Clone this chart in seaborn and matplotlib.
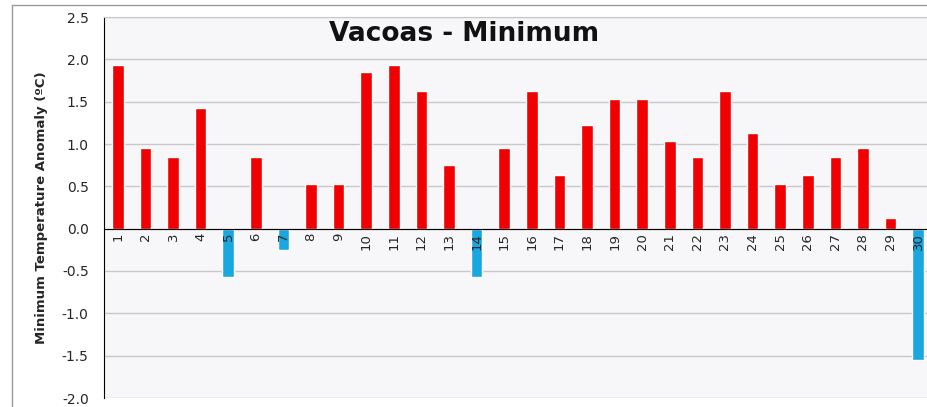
import matplotlib
matplotlib.use("Agg")
import matplotlib.pyplot as plt
import seaborn as sns
import pandas as pd
from matplotlib.ticker import FixedLocator, MultipleLocator

# daily minimum temperature anomaly, Vacoas
days = [str(d) for d in range(1, 31)]
anomaly = [1.93, 0.95, 0.85, 1.43, -0.57, 0.85, -0.25, 0.53, 0.53, 1.85,
           1.93, 1.63, 0.75, -0.57, 0.95, 1.63, 0.63, 1.23, 1.53, 1.53,
           1.03, 0.85, 1.63, 1.13, 0.53, 0.63, 0.85, 0.95, 0.13, -1.55]

df = pd.DataFrame({"day": days, "anomaly": anomaly})
df["sign"] = ["pos" if v >= 0 else "neg" for v in anomaly]

sns.set_style("white")
plt.rcParams["font.family"] = ["DejaVu Sans"]

fig = plt.figure(figsize=(9.28, 4.07), dpi=100)
fig.patch.set_facecolor("white")
ax = fig.add_axes([104 / 928, 9 / 407, 828 / 928, 381 / 407])
ax.set_facecolor("#f7f7f9")

sns.barplot(data=df, x="day", y="anomaly", hue="sign", order=days,
            palette={"pos": "#f00000", "neg": "#1aa7e0"}, width=0.42,
            saturation=1, dodge=False, legend=False, ax=ax, zorder=3)

ax.set_xlim(-0.5, 29.5)
ax.set_ylim(-2.0, 2.5)
ax.yaxis.set_major_locator(MultipleLocator(0.5))
ax.set_yticklabels([f"{t:.1f}" for t in ax.get_yticks()], fontsize=10)
ax.grid(axis="y", color="#c8c8c8", linewidth=1)
ax.set_axisbelow(True)
# day labels sit on top of the negative bars
ax.xaxis.set_zorder(5)

# x axis drawn along zero
ax.spines["bottom"].set_position(("data", 0))
ax.spines["bottom"].set_color("black")
ax.spines["bottom"].set_zorder(4)
ax.spines["left"].set_color("black")
ax.spines["top"].set_color("#c8c8c8")
ax.spines["right"].set_visible(False)

ax.set_xticks(range(30))
ax.set_xticklabels(days, rotation=90, fontsize=9.5)
ax.tick_params(axis="x", which="major", length=0, pad=3)
ax.xaxis.set_minor_locator(FixedLocator([i + 0.5 for i in range(-1, 30)]))
ax.tick_params(axis="x", which="minor", length=4, width=1, color="black", direction="out")
ax.tick_params(axis="y", length=5, width=1, color="black", direction="out", pad=6)

ax.set_xlabel("")
ax.set_ylabel("Minimum Temperature Anomaly (ºC)", fontsize=9.5, fontweight="bold", labelpad=10)

ax.text(0.435, 0.955, "Vacoas - Minimum", transform=ax.transAxes, ha="center", va="center",
        fontsize=19, fontweight="bold", color="#111111")

# outer chart frame
fig.add_artist(plt.Line2D([12 / 928, 12 / 928], [0, 1 - 5 / 407], color="#9a9a9a", linewidth=1))
fig.add_artist(plt.Line2D([12 / 928, 1], [1 - 5 / 407, 1 - 5 / 407], color="#9a9a9a", linewidth=1))

fig.savefig("out.png", dpi=100, facecolor="white")
